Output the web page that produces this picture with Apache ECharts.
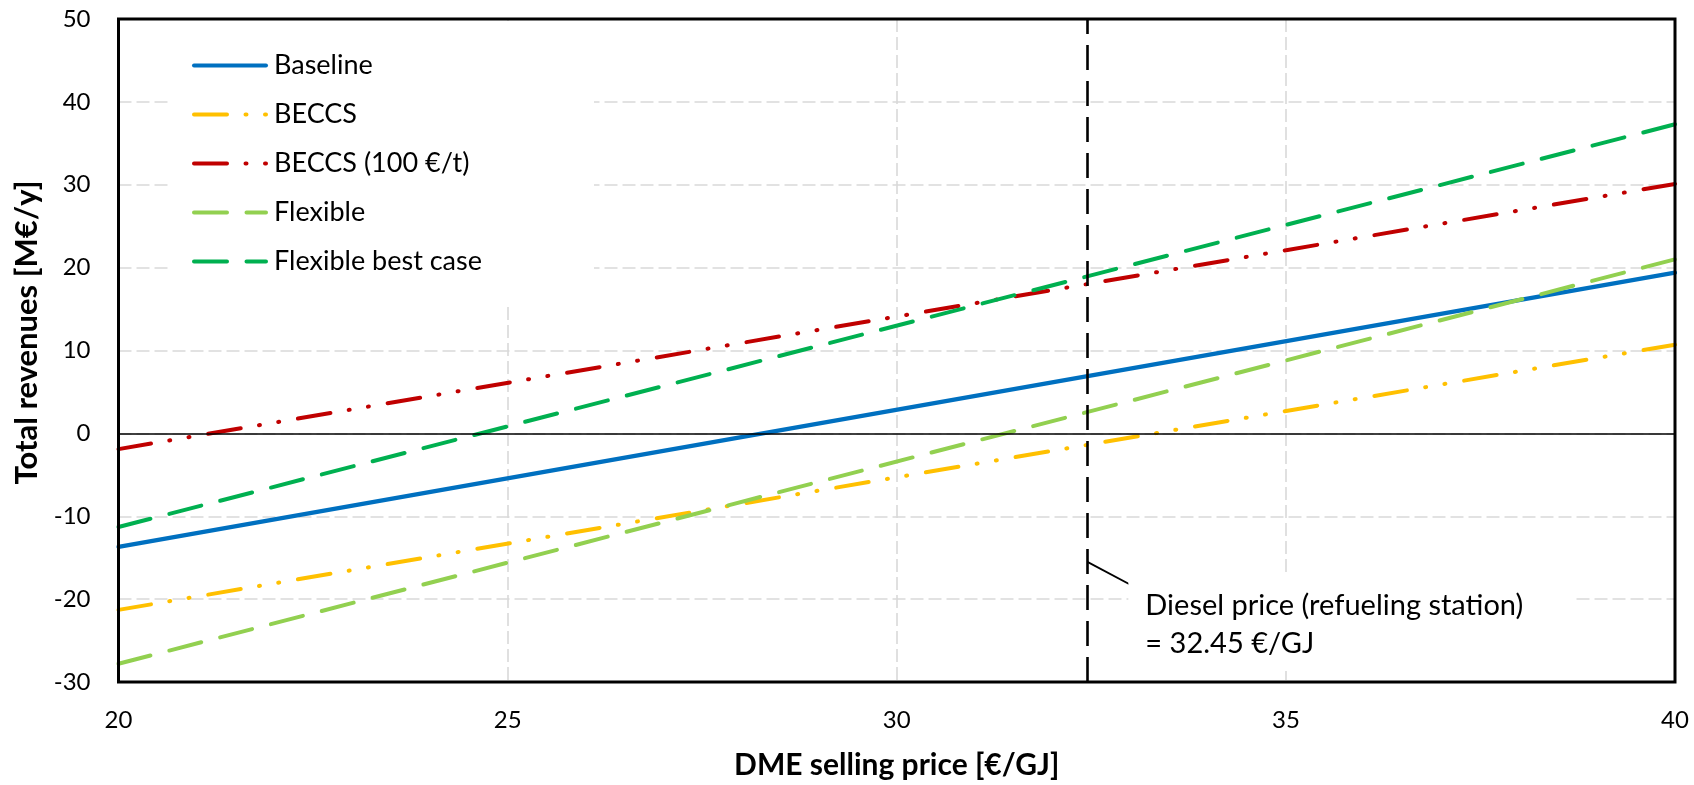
<!DOCTYPE html>
<html>
<head>
<meta charset="utf-8">
<title>DME selling price vs total revenues</title>
<script src="https://cdn.jsdelivr.net/npm/echarts@6/dist/echarts.min.js"></script>
<style>
  html, body { margin: 0; padding: 0; background: #fff; }
  #main { width: 1694px; height: 785px; }
</style>
</head>
<body>
<div id="main"></div>
<script>
// DME selling price [€/GJ] at the two ends of the studied range
const priceRange = [20, 40];
// Total revenues [M€/y] for each scenario at those prices
const baseline = [-13.7, 19.4];
const beccs = [-21.3, 10.7];
const beccs100 = [-1.9, 30.1];
const flexible = [-27.8, 21.0];
const flexibleBest = [-11.3, 37.3];

// Reference diesel price at the refueling station [€/GJ]
const dieselPrice = 32.45;
// Leader line from the diesel marker to its note
const leaderStart = [32.45, -15.5];
const leaderEnd = [33.13, -18.9];
const dieselNote = ['Diesel price (refueling station)', '= 32.45 €/GJ'];

const xTicks = { min: 20, max: 40, interval: 5 };
const yTicks = { min: -30, max: 50, interval: 10 };

const FONT = 'Lato';

function pairs(values) {
  return priceRange.map((p, i) => [p, values[i]]);
}

const dashDotDot = [33, 18.5, 1, 18.5, 1, 19];
const longDash = [33, 19.5];

const seriesDefs = [
  { name: 'Baseline', values: baseline, color: '#0070C0', type: 'solid', width: 4.2 },
  { name: 'BECCS', values: beccs, color: '#FFC000', type: dashDotDot, width: 4 },
  { name: 'BECCS (100 €/t)', values: beccs100, color: '#C00000', type: dashDotDot, width: 4 },
  { name: 'Flexible', values: flexible, color: '#92D050', type: longDash, width: 4 },
  { name: 'Flexible best case', values: flexibleBest, color: '#00B050', type: longDash, width: 4 }
];

const chart = echarts.init(document.getElementById('main'), null, { renderer: 'canvas' });

const series = seriesDefs.map(d => ({
  name: d.name,
  type: 'line',
  data: pairs(d.values),
  symbol: 'none',
  z: 3,
  color: d.color,
  lineStyle: { color: d.color, width: d.width, type: d.type, cap: 'round' },
  emphasis: { disabled: true }
}));

// Zero line, diesel price marker and its leader line
series.unshift({
  name: 'markers',
  type: 'line',
  data: [],
  z: 2,
  markLine: {
    silent: true,
    symbol: ['none', 'none'],
    animation: false,
    label: { show: false },
    data: [
      { yAxis: 0, lineStyle: { color: '#000', width: 1.5, type: 'solid' } },
      { xAxis: dieselPrice, lineStyle: { color: '#000', width: 2.6, type: [25, 11] } },
      [
        { coord: leaderStart, lineStyle: { color: '#000', width: 1.8, type: 'solid' } },
        { coord: leaderEnd }
      ]
    ]
  }
});

const option = {
  animation: false,
  backgroundColor: '#fff',
  textStyle: { fontFamily: FONT },
  grid: { left: 118.5, right: 19, top: 19, bottom: 103, containLabel: false },
  legend: {
    data: seriesDefs.map(d => d.name),
    orient: 'vertical',
    left: 172,
    top: 21,
    padding: [31, 112, 28, 20],
    backgroundColor: '#fff',
    itemWidth: 72,
    itemHeight: 14,
    itemGap: 22,
    selectedMode: false,
    itemStyle: { opacity: 0 },
    lineStyle: { width: 4, cap: 'round' },
    textStyle: { fontFamily: FONT, fontSize: 27, color: '#000', padding: [0, 0, 0, 3] }
  },
  xAxis: {
    type: 'value',
    min: xTicks.min, max: xTicks.max, interval: xTicks.interval,
    axisLine: { show: false },
    axisTick: { show: false },
    axisLabel: { fontFamily: FONT, fontSize: 24, color: '#000', margin: 26 },
    splitLine: { show: true, lineStyle: { color: '#d9d9d9', width: 1.6, type: [13, 5] } },
    name: 'DME selling price [€/GJ]',
    nameLocation: 'middle',
    nameGap: 68,
    nameTextStyle: { fontFamily: FONT, fontSize: 30, fontWeight: 'bold', color: '#000' }
  },
  yAxis: {
    type: 'value',
    min: yTicks.min, max: yTicks.max, interval: yTicks.interval,
    axisLine: { show: false },
    axisTick: { show: false },
    axisLabel: { fontFamily: FONT, fontSize: 24, color: '#000', margin: 28 },
    splitLine: { show: true, lineStyle: { color: '#d9d9d9', width: 1.6, type: [13, 5] } }
  },
  series: series
};

chart.setOption(option);

// Plot frame, revenues axis title and the diesel note, placed from the axes
const lo = chart.convertToPixel({ gridIndex: 0 }, [xTicks.min, yTicks.min]);
const hi = chart.convertToPixel({ gridIndex: 0 }, [xTicks.max, yTicks.max]);
const end = chart.convertToPixel({ gridIndex: 0 }, leaderEnd);
chart.setOption({
  graphic: [
    {
      type: 'rect',
      z: 20,
      silent: true,
      shape: { x: lo[0], y: hi[1], width: hi[0] - lo[0], height: lo[1] - hi[1] },
      style: { fill: 'none', stroke: '#000', lineWidth: 3 }
    },
    {
      type: 'text',
      x: 27, y: (lo[1] + hi[1]) / 2 - 18,
      rotation: Math.PI / 2,
      z: 10,
      style: {
        text: 'Total revenues [M€/y]',
        fontFamily: FONT, fontSize: 31, fontWeight: 'bold',
        fill: '#000', align: 'center', verticalAlign: 'middle'
      }
    },
    {
      type: 'rect',
      z: 9,
      shape: { x: end[0] - 12, y: end[1] - 16, width: 445, height: 97 },
      style: { fill: '#fff' }
    },
    {
      type: 'text',
      z: 10,
      x: end[0] + 5, y: end[1] + 35,
      style: {
        text: dieselNote.join('\n'),
        fontFamily: FONT, fontSize: 29, lineHeight: 38,
        fill: '#000', align: 'left', verticalAlign: 'middle'
      }
    }
  ]
});
</script>
</body>
</html>
